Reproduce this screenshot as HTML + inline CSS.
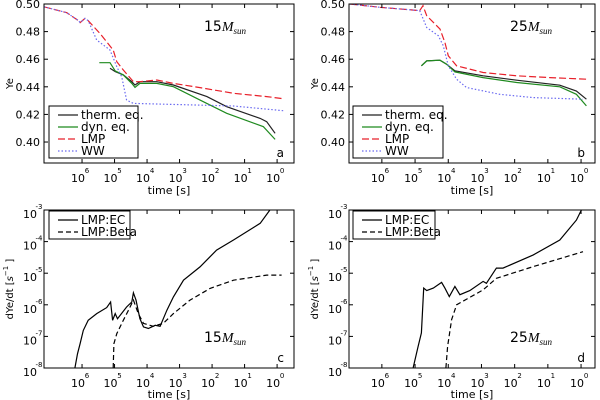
<!DOCTYPE html>
<html><head><meta charset="utf-8"><style>
body{margin:0;background:#fff}
svg{display:block;font-family:"DejaVu Sans","Liberation Sans",sans-serif}
</style></head><body>
<svg id="c" width="600" height="400" viewBox="0 0 600 400"></svg>
<script>
// ---- data (x = log10 time exponent, decreasing to the right) ----
const aThermX=[5.14,4.98,4.73,4.47,4.37,4.22,3.70,3.19,2.16,1.55,0.52,0.32,0.06];
const aThermY=[0.4534,0.451,0.4486,0.4437,0.4413,0.4437,0.4437,0.4413,0.4329,0.4256,0.4171,0.4147,0.4063];
const aDynX=[5.47,5.14,4.98,4.73,4.47,4.37,4.22,3.70,3.19,2.27,1.55,0.42,0.06];
const aDynY=[0.4575,0.4575,0.4515,0.4486,0.4425,0.4396,0.4425,0.4425,0.4401,0.4292,0.4208,0.4111,0.4019];
const aLmpX=[7.17,6.47,6.11,6.06,5.91,5.81,5.45,5.04,4.93,4.73,4.42,4.22,3.70,3.19,2.37,1.34,0.32,-0.19];
const aLmpY=[0.498,0.4937,0.4879,0.4865,0.4896,0.4879,0.4787,0.4667,0.4582,0.4522,0.4437,0.4437,0.4449,0.4425,0.4394,0.4353,0.4329,0.4314];
const aWwX=[7.17,6.47,6.11,6.06,5.91,5.81,5.55,5.14,4.93,4.78,4.63,4.42,1.34,-0.19];
const aWwY=[0.498,0.4937,0.4879,0.4865,0.4896,0.4879,0.4739,0.4667,0.4546,0.4473,0.4304,0.428,0.4261,0.4227];
const bThermX=[4.81,4.65,4.25,4.05,3.80,2.95,1.94,0.64,0.14,-0.16];
const bThermY=[0.4552,0.4588,0.4593,0.4564,0.4516,0.448,0.4448,0.4412,0.437,0.431];
const bDynX=[4.81,4.65,4.25,4.05,3.80,2.95,1.94,0.64,0.14,-0.16];
const bDynY=[0.4552,0.4588,0.4593,0.4564,0.4508,0.4467,0.4431,0.44,0.4346,0.4262];
const bLmpX=[6.96,6.06,4.86,4.76,4.65,4.25,4.10,4.0,3.75,2.95,1.94,0.94,-0.16];
const bLmpY=[0.5,0.4976,0.4952,0.4988,0.4915,0.4818,0.4722,0.4625,0.4552,0.4504,0.448,0.4467,0.4455];
const bWwX=[6.96,6.06,4.86,4.65,4.30,4.15,4.0,3.75,3.45,2.45,1.44,-0.06];
const bWwY=[0.5,0.4976,0.4952,0.483,0.477,0.4697,0.4552,0.4455,0.4395,0.4346,0.4322,0.431];
const cEcX=[6.22,6.14,6.06,5.96,5.81,5.55,5.24,5.12,5.06,4.98,4.91,4.63,4.47,4.42,4.34,4.22,4.11,3.96,3.75,3.60,3.39,3.19,2.88,2.37,1.86,1.34,0.52,0.22];
const cEcY=[-8.0,-7.55,-7.23,-6.81,-6.49,-6.28,-6.09,-5.91,-6.49,-6.28,-6.44,-6.07,-5.91,-5.62,-5.85,-6.44,-6.70,-6.75,-6.65,-6.68,-6.17,-5.75,-5.22,-4.80,-4.27,-3.95,-3.42,-3.0];
const cBetaX=[5.04,5.02,4.93,4.73,4.57,4.42,4.27,4.11,3.81,3.50,3.19,2.68,2.06,1.34,0.32,-0.14];
const cBetaY=[-8.0,-7.23,-6.91,-6.49,-6.17,-5.85,-6.28,-6.59,-6.68,-6.59,-6.28,-5.85,-5.48,-5.22,-5.06,-5.06];
const dEcX=[5.06,4.91,4.81,4.74,4.65,4.45,4.20,4.10,3.97,3.80,3.65,3.35,2.95,2.85,2.55,2.35,1.44,0.64,0.14,-0.01];
const dEcY=[-8.0,-7.32,-6.89,-5.47,-5.55,-5.47,-5.29,-5.47,-5.74,-5.42,-5.68,-5.55,-5.26,-5.32,-4.84,-4.84,-4.42,-3.95,-3.32,-3.0];
const dBetaX=[4.07,4.02,3.90,3.75,2.95,2.55,1.44,-0.06];
const dBetaY=[-8.0,-7.32,-6.47,-6.0,-5.53,-5.16,-4.79,-4.32];
const xTickExps=[6,5,4,3,2,1,0];
const yeTicks=[0.50,0.48,0.46,0.44,0.42,0.40];
const logTicks=[-3,-4,-5,-6,-7,-8];

const S=document.getElementById('c'),NS='http://www.w3.org/2000/svg';
function mk(tag,at,par,txt){const e=document.createElementNS(NS,tag);for(const k in at)e.setAttribute(k,at[k]);if(txt!==undefined)e.textContent=txt;(par||S).appendChild(e);return e;}

function panel(p){
  const g=mk('g',{});
  
  
  const xs=v=>p.x0+(p.xe0-v)/(p.xe0-p.xe1)*(p.x1-p.x0);
  const ys=v=>p.y1-(v-p.ymin)/(p.ymax-p.ymin)*(p.y1-p.y0);
  const cid='clip'+p.id;
  const cp=mk('clipPath',{id:cid},g);mk('rect',{x:p.x0,y:p.y0,width:p.x1-p.x0,height:p.y1-p.y0},cp);
  const lg=mk('g',{'clip-path':'url(#'+cid+')'},g);
  p.series.forEach(s=>{
    const d=s.x.map((v,i)=>(i?'L':'M')+xs(v).toFixed(1)+' '+ys(s.y[i]).toFixed(1)).join('');
    const pa=mk('path',{d:d,fill:'none',stroke:s.c,'stroke-width':s.w||1.2,'stroke-dasharray':s.da||'none'},lg);
    
    
  });
  const bx=mk('rect',{x:p.x0,y:p.y0,width:p.x1-p.x0,height:p.y1-p.y0,fill:'none',stroke:'#000','stroke-width':1},g);
  
  
  xTickExps.forEach(e=>{
    const x=xs(e);
    mk('line',{x1:x,x2:x,y1:p.y1,y2:p.y1-4,stroke:'#000'},g);
    mk('line',{x1:x,x2:x,y1:p.y0,y2:p.y0+4,stroke:'#000'},g);
    const t=mk('text',{x:x-4,y:p.y1+p.tenOff,'font-size':11,'text-anchor':'middle'},g,'10');
    
    
    mk('text',{x:x+5,y:p.y1+p.tenOff-9,'font-size':7,'text-anchor':'middle'},g,String(e));
  });
  const xt=mk('text',{x:(p.x0+p.x1)/2,y:p.y1+p.timeOff,'font-size':11,'text-anchor':'middle'},g,'time [s]');
  
  
  p.yt.forEach(v=>{
    const y=ys(v);
    mk('line',{x1:p.x0,x2:p.x0+4,y1:y,y2:y,stroke:'#000'},g);
    mk('line',{x1:p.x1,x2:p.x1-4,y1:y,y2:y,stroke:'#000'},g);
    let t;
    if(p.log){t=mk('text',{x:p.x0-14,y:y+8,'font-size':11,'text-anchor':'middle'},g,'10');
      mk('text',{x:p.x0-5,y:y-1,'font-size':7,'text-anchor':'middle'},g,String(v));}
    else t=mk('text',{x:p.x0-4,y:y+4,'font-size':11,'text-anchor':'end'},g,v.toFixed(2));
    
    
  });
  const yl=mk('text',{x:0,y:0,'font-size':10,'text-anchor':'middle',transform:'translate('+(p.x0-31)+','+((p.y0+p.y1)/2)+') rotate(-90)'},g);
  
  
  if(p.log){yl.innerHTML='dYe/dt [<tspan font-style="italic">s</tspan><tspan dy="-5" font-size="7">−1</tspan><tspan dy="5"> ]</tspan>';}
  else yl.textContent='Ye';
  const ml=mk('text',{x:p.mx,y:p.my,'font-size':14},g);
  
  
  ml.innerHTML=p.mass+'<tspan font-family="Liberation Serif,serif" font-style="italic">M</tspan><tspan font-family="Liberation Serif,serif" font-style="italic" font-size="9" dy="3">sun</tspan>';
  const pl=mk('text',{x:p.x1-10,y:p.y1-6,'font-size':12,'text-anchor':'end'},g,p.id);
  
  
  const L=mk('g',{},g);
  
  
  mk('rect',{x:p.lx,y:p.ly,width:p.lw,height:p.series.length*12+4,fill:'#fff',stroke:'#000'},L);
  p.series.forEach((s,i)=>{
    const y=p.ly+9+i*12;
    const e=mk('g',{},L);
    
    
    mk('line',{x1:p.lx+9,x2:p.lx+29,y1:y,y2:y,stroke:s.c,'stroke-width':s.w||1.2,'stroke-dasharray':s.da||'none'},e);
    mk('text',{x:p.lx+32,y:y+4,'font-size':12},e,s.n);
  });
}
const blk='#222',grn='#1f8a1f',red='#e8202a',blu='#6a6af0';
panel({id:'a',x0:44,x1:294,y0:4,y1:163,xe0:7.17,xe1:-0.52,ymin:0.3848,ymax:0.5,yt:yeTicks,log:false,mass:'15',mx:204,my:31,lx:49,ly:106,lw:89,tenOff:19,timeOff:31,
 series:[{n:'therm. eq.',x:aThermX,y:aThermY,c:blk},{n:'dyn. eq.',x:aDynX,y:aDynY,c:grn},{n:'LMP',x:aLmpX,y:aLmpY,c:red,da:'7,3'},{n:'WW',x:aWwX,y:aWwY,c:blu,da:'1.5,2'}]});
panel({id:'b',x0:349,x1:595,y0:4,y1:163,xe0:6.99,xe1:-0.42,ymin:0.3848,ymax:0.5,yt:yeTicks,log:false,mass:'25',mx:510,my:31,lx:353,ly:106,lw:90,tenOff:19,timeOff:31,
 series:[{n:'therm. eq.',x:bThermX,y:bThermY,c:blk},{n:'dyn. eq.',x:bDynX,y:bDynY,c:grn},{n:'LMP',x:bLmpX,y:bLmpY,c:red,da:'7,3'},{n:'WW',x:bWwX,y:bWwY,c:blu,da:'1.5,2'}]});
panel({id:'c',x0:44,x1:294,y0:210,y1:368,xe0:7.17,xe1:-0.52,ymin:-8,ymax:-3,yt:logTicks,log:true,mass:'15',mx:204,my:342,lx:49,ly:211,lw:81,tenOff:19,timeOff:30,
 series:[{n:'LMP:EC',x:cEcX,y:cEcY,c:'#000'},{n:'LMP:Beta',x:cBetaX,y:cBetaY,c:'#000',da:'5,3'}]});
panel({id:'d',x0:349,x1:595,y0:210,y1:368,xe0:6.99,xe1:-0.42,ymin:-8,ymax:-3,yt:logTicks,log:true,mass:'25',mx:510,my:342,lx:353,ly:211,lw:82,tenOff:19,timeOff:30,
 series:[{n:'LMP:EC',x:dEcX,y:dEcY,c:'#000'},{n:'LMP:Beta',x:dBetaX,y:dBetaY,c:'#000',da:'5,3'}]});
</script>
</body></html>
